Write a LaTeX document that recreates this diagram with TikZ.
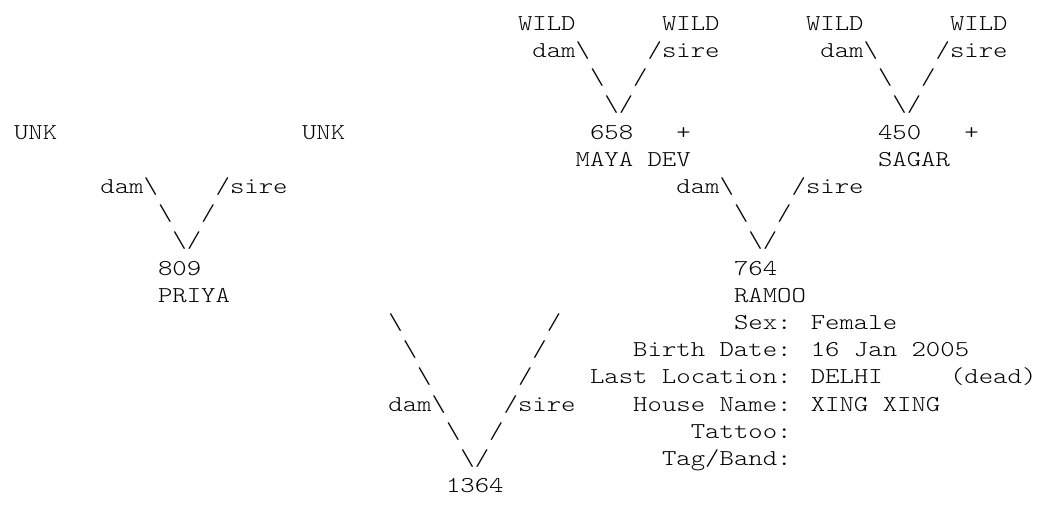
\documentclass[tikz,border=0pt]{standalone}
\usepackage{fontspec}
\newfontfamily\pedfont[Extension=.otf]{lmmonolt10-regular}
\newcommand{\bsl}{\textbackslash}
\begin{document}
\begin{tikzpicture}[x=10.8pt, y=-20.4pt,
  txt/.style={anchor=base west, inner sep=0pt, outer sep=0pt,
    xscale=1.21, transform shape,
    font=\pedfont\fontsize{17}{20.4}\selectfont}]
\useasboundingbox (-10.5pt,22.65pt) rectangle (770.25pt,-357.6pt);
% great-grandparents
\node[txt] (wildA) at (35,0) {WILD};
\node[txt] (wildB) at (45,0) {WILD};
\node[txt] (wildC) at (55,0) {WILD};
\node[txt] (wildD) at (65,0) {WILD};
\node[txt] (damM) at (36,1) {dam\bsl};
\node[txt] (sireM) at (44,1) {/sire};
\node[txt] (damS) at (56,1) {dam\bsl};
\node[txt] (sireS) at (64,1) {/sire};
\node[txt] (bsM) at (40,2) {\bsl};
\node[txt] (slM) at (43,2) {/};
\node[txt] (bsS) at (60,2) {\bsl};
\node[txt] (slS) at (63,2) {/};
\node[txt] (vM) at (41,3) {\bsl/};
\node[txt] (vS) at (61,3) {\bsl/};
% grandparents
\node[txt] (unkA) at (0,4) {UNK};
\node[txt] (unkB) at (20,4) {UNK};
\node[txt] (maya) at (40,4) {658};
\node[txt] (mayaX) at (46,4) {+};
\node[txt] (sagar) at (60,4) {450};
\node[txt] (sagarX) at (66,4) {+};
\node[txt] (mayaN) at (39,5) {MAYA DEV};
\node[txt] (sagarN) at (60,5) {SAGAR};
\node[txt] (damP) at (6,6) {dam\bsl};
\node[txt] (sireP) at (14,6) {/sire};
\node[txt] (damR) at (46,6) {dam\bsl};
\node[txt] (sireR) at (54,6) {/sire};
\node[txt] (bsP) at (10,7) {\bsl};
\node[txt] (slP) at (13,7) {/};
\node[txt] (bsR) at (50,7) {\bsl};
\node[txt] (slR) at (53,7) {/};
\node[txt] (vP) at (11,8) {\bsl/};
\node[txt] (vR) at (51,8) {\bsl/};
% parents
\node[txt] (priya) at (10,9) {809};
\node[txt] (ramoo) at (50,9) {764};
\node[txt] (priyaN) at (10,10) {PRIYA};
\node[txt] (ramooN) at (50,10) {RAMOO};
\node[txt] (bs1) at (26,11) {\bsl};
\node[txt] (sl1) at (37,11) {/};
\node[txt] (bs2) at (27,12) {\bsl};
\node[txt] (sl2) at (36,12) {/};
\node[txt] (bs3) at (28,13) {\bsl};
\node[txt] (sl3) at (35,13) {/};
\node[txt] (damK) at (26,14) {dam\bsl};
\node[txt] (sireK) at (34,14) {/sire};
\node[txt] (bsK) at (30,15) {\bsl};
\node[txt] (slK) at (33,15) {/};
\node[txt] (vK) at (31,16) {\bsl/};
\node[txt] (kid) at (30,17) {1364};
% details
\node[txt] (sex) at (50,11) {Sex: Female};
\node[txt] (birth) at (43,12) {Birth Date: 16 Jan 2005};
\node[txt] (loc) at (40,13) {Last Location: DELHI};
\node[txt] (dead) at (65,13) {(dead)};
\node[txt] (house) at (43,14) {House Name: XING XING};
\node[txt] (tattoo) at (47,15) {Tattoo:};
\node[txt] (tag) at (45,16) {Tag/Band:};
\end{tikzpicture}
\end{document}
